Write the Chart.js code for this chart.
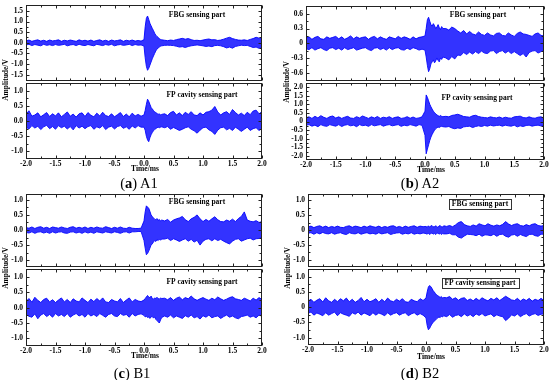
<!DOCTYPE html>
<html>
<head>
<meta charset="utf-8">
<script src="https://cdn.jsdelivr.net/npm/chart.js@4.4.1/dist/chart.umd.min.js"></script>
<style>
body { margin: 0; background: #fff; }
#fig { position: relative; width: 550px; height: 380px; overflow: hidden; background: #fff;
       font-family: "Liberation Serif", "Times New Roman", serif; }
#fig canvas { position: absolute; }
.lbl { position: absolute; transform: translate(-50%, -50%); white-space: nowrap;
       font-weight: bold; font-size: 7.5px; color: #000; line-height: 1; }
.ylab { transform: translate(-50%, -50%) rotate(-90deg); }
.cap { position: absolute; transform: translate(-50%, -50%); white-space: nowrap;
       font-size: 14.5px; color: #000; line-height: 1; }
</style>
</head>
<body>
<div id="fig"></div>
<script>
// time axis (ms): coarse before the trigger, finer through the burst
const times = [
  -2.00,-1.95,-1.90,-1.85,-1.80,-1.75,-1.70,-1.65,-1.60,-1.55,-1.50,-1.45,-1.40,-1.35,-1.30,-1.25,-1.20,-1.15,-1.10,-1.05,
  -1.00,-0.95,-0.90,-0.85,-0.80,-0.75,-0.70,-0.65,-0.60,-0.55,-0.50,-0.45,-0.40,-0.35,-0.30,-0.25,-0.20,-0.15,-0.10,-0.05,
  0.00,0.02,0.04,0.06,0.08,0.10,0.12,0.14,0.16,0.18,0.20,0.22,0.24,0.26,0.28,0.30,
  0.35,0.40,0.45,0.50,0.55,0.60,0.65,0.70,0.75,0.80,0.85,0.90,0.95,1.00,1.05,1.10,1.15,1.20,1.25,1.30,1.35,1.40,1.45,1.50,
  1.55,1.60,1.65,1.70,1.75,1.80,1.85,1.90,1.95,2.00
];

// upper / lower envelope of each trace (V)
// (a) A1
const aFbgHi = [
  0.09,0.13,0.07,0.11,0.14,0.08,0.12,0.07,0.13,0.09, 0.11,0.14,0.07,0.12,0.09,0.13,0.10,0.07,0.14,0.09,
  0.12,0.08,0.13,0.07,0.11,0.14,0.08,0.12,0.07,0.13, 0.09,0.11,0.14,0.07,0.12,0.09,0.13,0.08,0.11,0.08,
  0.15,0.75,1.15,1.26,1.10,0.92,0.80,0.68,0.58,0.45,0.36,0.30,0.25,0.20,0.16,0.14,
  0.12,0.10,0.13,0.11,0.15,0.18,0.21,0.17,0.20,0.15, 0.11,0.12,0.10,0.13,0.16,0.18,0.14,0.15,0.11,0.13,
  0.17,0.22,0.26,0.20,0.16,0.13,0.12,0.14,0.11,0.16, 0.20,0.26,0.22,0.24
];
const aFbgLo = [
  -0.10,-0.07,-0.13,-0.08,-0.11,-0.14,-0.07,-0.12,-0.09,-0.13, -0.08,-0.12,-0.10,-0.07,-0.14,-0.10,-0.08,-0.13,-0.07,-0.11,
  -0.13,-0.08,-0.11,-0.14,-0.07,-0.10,-0.13,-0.08,-0.11,-0.07, -0.14,-0.10,-0.08,-0.12,-0.10,-0.07,-0.13,-0.08,-0.11,-0.10,
  -0.15,-0.70,-1.10,-1.29,-1.20,-1.05,-0.90,-0.75,-0.62,-0.50,-0.38,-0.30,-0.24,-0.20,-0.16,-0.14,
  -0.12,-0.11,-0.12,-0.13,-0.16,-0.20,-0.18,-0.22,-0.17,-0.14, -0.12,-0.10,-0.12,-0.14,-0.17,-0.15,-0.18,-0.13,-0.12,-0.14,
  -0.18,-0.24,-0.20,-0.25,-0.17,-0.14,-0.11,-0.13,-0.12,-0.17, -0.22,-0.20,-0.26,-0.20
];
const aFpHi = [
  0.22,0.34,0.16,0.20,0.27,0.14,0.21,0.28,0.15,0.24, 0.17,0.27,0.14,0.22,0.30,0.16,0.23,0.13,0.24,0.27,
  0.15,0.28,0.19,0.14,0.26,0.17,0.29,0.18,0.15,0.24, 0.14,0.21,0.28,0.15,0.23,0.14,0.26,0.17,0.22,0.16,
  0.20,0.35,0.55,0.72,0.65,0.55,0.45,0.40,0.35,0.30,0.28,0.25,0.22,0.24,0.20,0.22,
  0.24,0.18,0.28,0.32,0.20,0.27,0.18,0.29,0.22,0.31, 0.20,0.18,0.27,0.20,0.29,0.31,0.36,0.48,0.30,0.20,
  0.27,0.31,0.22,0.38,0.28,0.20,0.26,0.18,0.29,0.21, 0.33,0.36,0.24,0.31
];
const aFpLo = [
  -0.20,-0.26,-0.15,-0.23,-0.17,-0.28,-0.19,-0.14,-0.25,-0.18, -0.27,-0.15,-0.22,-0.17,-0.26,-0.18,-0.29,-0.15,-0.23,-0.17,
  -0.25,-0.18,-0.15,-0.27,-0.19,-0.23,-0.15,-0.28,-0.20,-0.17, -0.26,-0.18,-0.15,-0.24,-0.19,-0.27,-0.16,-0.23,-0.15,-0.20,
  -0.20,-0.30,-0.50,-0.62,-0.68,-0.55,-0.45,-0.38,-0.32,-0.28,-0.25,-0.22,-0.20,-0.22,-0.20,-0.19,
  -0.22,-0.18,-0.27,-0.21,-0.26,-0.31,-0.27,-0.22,-0.19,-0.27, -0.32,-0.40,-0.30,-0.22,-0.20,-0.29,-0.34,-0.44,-0.30,-0.22,
  -0.20,-0.29,-0.24,-0.31,-0.20,-0.27,-0.34,-0.27,-0.20,-0.31, -0.25,-0.22,-0.31,-0.25
];
// (b) A2
const bFbgHi = [
  0.10,0.13,0.08,0.12,0.14,0.09,0.08,0.13,0.10,0.12, 0.14,0.09,0.13,0.08,0.11,0.15,0.09,0.13,0.10,0.12,
  0.13,0.08,0.12,0.14,0.09,0.13,0.10,0.08,0.13,0.11, 0.09,0.14,0.10,0.13,0.11,0.08,0.13,0.09,0.12,0.13,
  0.15,0.30,0.48,0.53,0.45,0.38,0.35,0.40,0.36,0.30,0.33,0.38,0.32,0.28,0.34,0.30,
  0.30,0.27,0.33,0.30,0.25,0.21,0.26,0.19,0.24,0.19, 0.17,0.23,0.18,0.16,0.21,0.17,0.15,0.20,0.21,0.16,
  0.15,0.21,0.17,0.14,0.20,0.23,0.19,0.18,0.16,0.14, 0.19,0.21,0.16,0.15
];
const bFbgLo = [
  -0.11,-0.13,-0.09,-0.14,-0.11,-0.09,-0.13,-0.15,-0.10,-0.09, -0.13,-0.10,-0.14,-0.09,-0.13,-0.11,-0.09,-0.14,-0.12,-0.10,
  -0.09,-0.13,-0.15,-0.10,-0.09,-0.13,-0.10,-0.14,-0.09,-0.13, -0.10,-0.09,-0.13,-0.14,-0.10,-0.13,-0.09,-0.11,-0.14,-0.12,
  -0.14,-0.28,-0.45,-0.58,-0.52,-0.42,-0.38,-0.34,-0.40,-0.36,-0.30,-0.35,-0.38,-0.30,-0.33,-0.28,
  -0.30,-0.34,-0.27,-0.32,-0.24,-0.25,-0.19,-0.23,-0.18,-0.22, -0.17,-0.21,-0.16,-0.20,-0.21,-0.16,-0.15,-0.21,-0.17,-0.15,
  -0.20,-0.16,-0.21,-0.17,-0.21,-0.25,-0.21,-0.28,-0.19,-0.16, -0.15,-0.20,-0.17,-0.15
];
const bFpHi = [
  0.22,0.27,0.18,0.30,0.21,0.34,0.24,0.18,0.28,0.32, 0.20,0.27,0.18,0.25,0.30,0.20,0.18,0.28,0.21,0.32,
  0.25,0.18,0.27,0.20,0.29,0.18,0.25,0.21,0.28,0.18, 0.24,0.27,0.18,0.21,0.28,0.19,0.26,0.18,0.21,0.27,
  0.60,1.54,1.40,1.20,1.00,0.85,0.72,0.60,0.52,0.45,0.38,0.34,0.30,0.35,0.30,0.28,
  0.30,0.27,0.35,0.38,0.42,0.36,0.29,0.27,0.25,0.33, 0.36,0.29,0.25,0.23,0.21,0.27,0.23,0.21,0.26,0.19,
  0.25,0.21,0.19,0.27,0.29,0.31,0.23,0.21,0.27,0.21, 0.19,0.25,0.27,0.21
];
const bFpLo = [
  -0.22,-0.18,-0.27,-0.21,-0.30,-0.18,-0.25,-0.28,-0.18,-0.23, -0.27,-0.18,-0.29,-0.21,-0.18,-0.25,-0.21,-0.30,-0.18,-0.24,
  -0.21,-0.28,-0.18,-0.25,-0.21,-0.18,-0.27,-0.21,-0.18,-0.25, -0.21,-0.18,-0.28,-0.21,-0.25,-0.18,-0.22,-0.27,-0.18,-0.22,
  -0.80,-1.87,-1.60,-1.35,-1.10,-0.90,-0.75,-0.62,-0.50,-0.42,-0.36,-0.32,-0.35,-0.30,-0.28,-0.30,
  -0.32,-0.29,-0.37,-0.42,-0.37,-0.40,-0.31,-0.29,-0.27,-0.35, -0.29,-0.25,-0.29,-0.23,-0.27,-0.21,-0.26,-0.23,-0.21,-0.27,
  -0.21,-0.25,-0.27,-0.21,-0.31,-0.25,-0.29,-0.23,-0.21,-0.27, -0.23,-0.21,-0.26,-0.21
];
// (c) B1
const cFbgHi = [
  0.08,0.06,0.10,0.05,0.09,0.11,0.06,0.09,0.05,0.10, 0.08,0.06,0.10,0.07,0.05,0.09,0.11,0.06,0.09,0.06,
  0.10,0.05,0.09,0.06,0.10,0.07,0.06,0.11,0.08,0.05, 0.09,0.06,0.10,0.06,0.05,0.09,0.06,0.05,0.05,0.06,
  0.30,0.60,0.80,0.76,0.72,0.62,0.50,0.45,0.40,0.36,0.34,0.38,0.32,0.35,0.30,0.33,
  0.30,0.35,0.26,0.33,0.37,0.40,0.45,0.34,0.28,0.37, 0.42,0.50,0.37,0.28,0.35,0.29,0.37,0.44,0.34,0.28,
  0.27,0.33,0.29,0.36,0.28,0.38,0.45,0.60,0.33,0.29, 0.27,0.31,0.25,0.28
];
const cFbgLo = [
  -0.08,-0.10,-0.06,-0.11,-0.07,-0.06,-0.10,-0.07,-0.11,-0.06, -0.10,-0.07,-0.06,-0.10,-0.11,-0.07,-0.06,-0.10,-0.07,-0.11,
  -0.06,-0.10,-0.07,-0.11,-0.06,-0.08,-0.10,-0.06,-0.08,-0.10, -0.06,-0.08,-0.11,-0.07,-0.06,-0.10,-0.06,-0.06,-0.05,-0.05,
  -0.35,-0.60,-0.82,-0.78,-0.70,-0.60,-0.50,-0.46,-0.40,-0.35,-0.38,-0.32,-0.35,-0.30,-0.34,-0.30,
  -0.30,-0.27,-0.35,-0.29,-0.33,-0.38,-0.33,-0.29,-0.37,-0.31, -0.40,-0.34,-0.50,-0.37,-0.31,-0.29,-0.36,-0.29,-0.35,-0.31,
  -0.37,-0.42,-0.46,-0.37,-0.31,-0.29,-0.37,-0.33,-0.29,-0.27, -0.33,-0.29,-0.28,-0.25
];
const cFpHi = [
  0.20,0.30,0.18,0.34,0.24,0.17,0.27,0.31,0.19,0.26, 0.17,0.25,0.32,0.19,0.27,0.17,0.29,0.22,0.19,0.32,
  0.24,0.17,0.28,0.20,0.30,0.22,0.32,0.19,0.17,0.27, 0.22,0.19,0.30,0.17,0.25,0.32,0.19,0.27,0.22,0.20,
  0.25,0.30,0.35,0.40,0.36,0.32,0.38,0.30,0.28,0.32,0.30,0.34,0.30,0.28,0.32,0.30,
  0.31,0.26,0.33,0.24,0.31,0.35,0.26,0.33,0.29,0.38, 0.29,0.24,0.29,0.33,0.28,0.24,0.31,0.26,0.35,0.29,
  0.24,0.28,0.33,0.36,0.29,0.27,0.24,0.31,0.27,0.22, 0.31,0.25,0.33,0.27
];
const cFpLo = [
  -0.22,-0.28,-0.31,-0.20,-0.36,-0.24,-0.19,-0.29,-0.22,-0.31, -0.19,-0.27,-0.22,-0.29,-0.19,-0.31,-0.24,-0.19,-0.27,-0.22,
  -0.31,-0.19,-0.27,-0.22,-0.29,-0.19,-0.25,-0.31,-0.22,-0.19, -0.27,-0.29,-0.19,-0.25,-0.22,-0.31,-0.19,-0.27,-0.22,-0.20,
  -0.25,-0.30,-0.28,-0.32,-0.30,-0.35,-0.30,-0.28,-0.34,-0.30,-0.38,-0.42,-0.46,-0.50,-0.40,-0.32,
  -0.27,-0.31,-0.24,-0.33,-0.27,-0.31,-0.35,-0.26,-0.31,-0.24, -0.33,-0.29,-0.37,-0.26,-0.31,-0.24,-0.33,-0.29,-0.27,-0.35,
  -0.29,-0.24,-0.31,-0.27,-0.33,-0.36,-0.29,-0.27,-0.24,-0.31, -0.27,-0.33,-0.24,-0.28
];
// (d) B2
const dFbgHi = [
  0.10,0.13,0.08,0.12,0.14,0.09,0.13,0.08,0.12,0.09, 0.13,0.09,0.08,0.12,0.14,0.09,0.13,0.11,0.08,0.13,
  0.09,0.14,0.11,0.09,0.13,0.08,0.12,0.09,0.13,0.14, 0.09,0.12,0.08,0.13,0.09,0.12,0.14,0.09,0.13,0.11,
  0.12,0.09,0.14,0.10,0.13,0.15,0.11,0.10,0.14,0.12,0.09,0.13,0.15,0.11,0.10,0.14,
  0.12,0.15,0.11,0.17,0.25,0.28,0.18,0.14,0.12,0.17, 0.13,0.21,0.17,0.14,0.21,0.16,0.13,0.17,0.14,0.19,
  0.28,0.20,0.15,0.19,0.21,0.15,0.13,0.18,0.14,0.19, 0.21,0.15,0.13,0.15
];
const dFbgLo = [
  -0.11,-0.09,-0.14,-0.09,-0.13,-0.08,-0.12,-0.13,-0.09,-0.14, -0.11,-0.09,-0.13,-0.15,-0.09,-0.12,-0.13,-0.09,-0.14,-0.11,
  -0.09,-0.13,-0.11,-0.14,-0.09,-0.13,-0.11,-0.09,-0.15,-0.12, -0.10,-0.09,-0.14,-0.11,-0.13,-0.09,-0.14,-0.11,-0.13,-0.10,
  -0.12,-0.14,-0.10,-0.15,-0.12,-0.10,-0.14,-0.11,-0.15,-0.12,-0.10,-0.14,-0.11,-0.15,-0.12,-0.13,
  -0.13,-0.11,-0.16,-0.16,-0.24,-0.27,-0.20,-0.14,-0.15,-0.16, -0.19,-0.14,-0.21,-0.16,-0.17,-0.19,-0.14,-0.21,-0.15,-0.14,
  -0.21,-0.24,-0.17,-0.15,-0.21,-0.15,-0.19,-0.22,-0.15,-0.14, -0.19,-0.21,-0.14,-0.14
];
const dFpHi = [
  0.20,0.26,0.16,0.23,0.28,0.17,0.31,0.21,0.16,0.26, 0.18,0.28,0.21,0.30,0.18,0.26,0.16,0.22,0.32,0.18,
  0.26,0.18,0.22,0.28,0.16,0.26,0.18,0.30,0.21,0.18, 0.26,0.20,0.28,0.18,0.16,0.26,0.21,0.18,0.28,0.22,
  0.30,0.50,0.66,0.71,0.68,0.62,0.55,0.50,0.45,0.40,0.38,0.35,0.32,0.35,0.30,0.32,
  0.31,0.35,0.26,0.31,0.23,0.29,0.31,0.22,0.27,0.21, 0.29,0.22,0.31,0.25,0.21,0.29,0.24,0.31,0.22,0.29,
  0.36,0.30,0.24,0.22,0.29,0.20,0.27,0.22,0.29,0.20, 0.26,0.22,0.29,0.22
];
const dFpLo = [
  -0.20,-0.16,-0.26,-0.19,-0.23,-0.28,-0.18,-0.26,-0.21,-0.16, -0.28,-0.18,-0.23,-0.26,-0.30,-0.18,-0.23,-0.16,-0.26,-0.19,
  -0.23,-0.28,-0.18,-0.26,-0.19,-0.23,-0.28,-0.18,-0.26,-0.21, -0.18,-0.26,-0.21,-0.18,-0.28,-0.22,-0.18,-0.26,-0.21,-0.26,
  -0.35,-0.60,-0.74,-0.70,-0.62,-0.55,-0.50,-0.46,-0.42,-0.38,-0.35,-0.32,-0.34,-0.30,-0.32,-0.28,
  -0.31,-0.24,-0.33,-0.27,-0.25,-0.31,-0.22,-0.29,-0.24,-0.31, -0.22,-0.27,-0.21,-0.29,-0.25,-0.22,-0.31,-0.25,-0.29,-0.31,
  -0.44,-0.36,-0.25,-0.29,-0.22,-0.31,-0.25,-0.21,-0.29,-0.24, -0.21,-0.27,-0.23,-0.22
];

// tick values
const xTicks = [-2, -1.5, -1, -0.5, 0, 0.5, 1, 1.5, 2];
const yTicks15 = [-1.5, -1, -0.5, 0, 0.5, 1, 1.5];
const yTicks10 = [-1, -0.5, 0, 0.5, 1];
const yTicks06 = [-0.6, -0.3, 0, 0.3, 0.6];
const yTicks20 = [-2, -1.5, -1, -0.5, 0, 0.5, 1, 1.5, 2];

const LINE = '#0000ff';
const BAND = 'rgba(12,12,255,0.84)';
const TICK_FONT = { family: '"Liberation Serif", "Times New Roman", serif', size: 7.5, weight: 'bold' };
const LABEL_FONT = 'bold 7.5px "Liberation Serif", "Times New Roman", serif';

const fix1 = v => v.toFixed(1);
const zeroBare = v => (v === 0 ? '0' : v.toFixed(1));

// plot rectangles [left, right, top, bottom] and label centres, in page pixels
const panels = [
  { rect: [26, 262, 3, 82],     yMin: -1.77, yMax: 1.80, yTicks: yTicks15, fmt: fix1,     hi: aFbgHi, lo: aFbgLo, xAxis: false,
    label: 'FBG sensing part', lx: 197, ly: 15, boxed: false },
  { rect: [26, 262, 81, 159],   yMin: -1.25, yMax: 1.27, yTicks: yTicks10, fmt: fix1,     hi: aFpHi,  lo: aFpLo,  xAxis: true,
    label: 'FP cavity sensing part', lx: 202, ly: 95, boxed: false },
  { rect: [306, 544, 4, 82],    yMin: -0.76, yMax: 0.77, yTicks: yTicks06, fmt: zeroBare, hi: bFbgHi, lo: bFbgLo, xAxis: false,
    label: 'FBG sensing part', lx: 478, ly: 15, boxed: false },
  { rect: [306, 544, 81, 160],  yMin: -2.23, yMax: 2.26, yTicks: yTicks20, fmt: zeroBare, hi: bFpHi,  lo: bFpLo,  xAxis: true,
    label: 'FP cavity sensing part', lx: 477, ly: 98, boxed: false },
  { rect: [26, 262, 192, 268],  yMin: -1.21, yMax: 1.21, yTicks: yTicks10, fmt: fix1,     hi: cFbgHi, lo: cFbgLo, xAxis: false,
    label: 'FBG sensing part', lx: 197, ly: 202, boxed: false },
  { rect: [26, 262, 267, 346],  yMin: -1.25, yMax: 1.28, yTicks: yTicks10, fmt: fix1,     hi: cFpHi,  lo: cFpLo,  xAxis: true,
    label: 'FP cavity sensing part', lx: 202, ly: 282, boxed: false },
  { rect: [308, 544, 192, 268], yMin: -1.22, yMax: 1.22, yTicks: yTicks10, fmt: zeroBare, hi: dFbgHi, lo: dFbgLo, xAxis: false,
    label: 'FBG sensing part', lx: 480, ly: 203.5, boxed: true },
  { rect: [308, 544, 267, 345], yMin: -1.24, yMax: 1.27, yTicks: yTicks10, fmt: zeroBare, hi: dFpHi,  lo: dFpLo,  xAxis: true,
    label: 'FP cavity sensing part', lx: 480, ly: 282.5, boxed: true }
];

// frame with inward major/minor ticks on all four sides, plus the trace label
const framePlugin = {
  id: 'frame',
  afterDraw(chart) {
    const { ctx, chartArea: a } = chart;
    const x = chart.scales.x, y = chart.scales.y;
    const p = chart.options.plugins.frame;
    const L = Math.round(a.left) + 0.5, R = Math.round(a.right) - 0.5;
    const T = Math.round(a.top) + 0.5, B = Math.round(a.bottom) - 0.5;
    ctx.save();
    ctx.strokeStyle = '#222';
    ctx.lineWidth = 1;
    ctx.strokeRect(L, T, R - L, B - T);
    ctx.beginPath();
    const xt = xTicks;
    xt.forEach((v, i) => {
      const px = Math.round(x.getPixelForValue(v)) + 0.5;
      ctx.moveTo(px, T); ctx.lineTo(px, T + 3);
      ctx.moveTo(px, B); ctx.lineTo(px, B - 3);
      if (i < xt.length - 1) {
        const pm = Math.round(x.getPixelForValue((v + xt[i + 1]) / 2)) + 0.5;
        ctx.moveTo(pm, T); ctx.lineTo(pm, T + 2);
        ctx.moveTo(pm, B); ctx.lineTo(pm, B - 2);
      }
    });
    const yt = p.yTicks;
    yt.forEach((v, i) => {
      const py = Math.round(y.getPixelForValue(v)) + 0.5;
      ctx.moveTo(L, py); ctx.lineTo(L + 3, py);
      ctx.moveTo(R, py); ctx.lineTo(R - 3, py);
      if (i < yt.length - 1) {
        const pm = Math.round(y.getPixelForValue((v + yt[i + 1]) / 2)) + 0.5;
        ctx.moveTo(L, pm); ctx.lineTo(L + 2, pm);
        ctx.moveTo(R, pm); ctx.lineTo(R - 2, pm);
      }
    });
    ctx.stroke();

    // trace label
    ctx.font = LABEL_FONT;
    ctx.textAlign = 'center';
    ctx.textBaseline = 'middle';
    const cx = p.lx - p.ox, cy = p.ly - p.oy;
    if (p.boxed) {
      const w = Math.round(ctx.measureText(p.label).width) + 6;
      const bx = Math.round(cx - w / 2) + 0.5, by = Math.round(cy - 5) + 0.5;
      ctx.fillStyle = '#fff';
      ctx.fillRect(bx, by, w, 10);
      ctx.strokeStyle = '#333';
      ctx.strokeRect(bx, by, w, 10);
    }
    ctx.fillStyle = '#000';
    ctx.fillText(p.label, cx, cy + 0.5);
    ctx.restore();
  }
};

const pts = arr => times.map((t, i) => ({ x: t, y: arr[i] }));

const fig = document.getElementById('fig');

panels.forEach(p => {
  if (p.hi.length !== times.length || p.lo.length !== times.length) {
    throw new Error('length mismatch ' + p.hi.length + ' ' + p.lo.length);
  }
  const [L, R, T, B] = p.rect;
  const ML = 28, MR = 10, MT = 6, MB = p.xAxis ? 24 : 6;
  const cv = document.createElement('canvas');
  cv.width = R - L + ML + MR;
  cv.height = B - T + MT + MB;
  cv.style.left = (L - ML) + 'px';
  cv.style.top = (T - MT) + 'px';
  fig.appendChild(cv);

  const xScale = {
    type: 'linear', min: -2, max: 2, display: p.xAxis,
    afterBuildTicks: s => { s.ticks = xTicks.map(v => ({ value: v })); },
    grid: { display: false, drawTicks: false }, border: { display: false },
    ticks: { font: TICK_FONT, color: '#000', padding: 1, maxRotation: 0, autoSkip: false,
             callback: v => fix1(v) }
  };
  if (p.xAxis) xScale.afterFit = s => { s.height = MB; };

  new Chart(cv, {
    type: 'line',
    data: {
      datasets: [
        { data: pts(p.hi), fill: '+1', backgroundColor: BAND, borderColor: LINE, borderWidth: 0.9, pointRadius: 0, tension: 0 },
        { data: pts(p.lo), fill: false, borderColor: LINE, borderWidth: 0.9, pointRadius: 0, tension: 0 }
      ]
    },
    options: {
      responsive: false, animation: false, devicePixelRatio: 1, events: [],
      layout: { padding: { left: 0, right: MR, top: MT, bottom: p.xAxis ? 0 : MB } },
      plugins: {
        legend: { display: false }, tooltip: { enabled: false },
        frame: { yTicks: p.yTicks, label: p.label, lx: p.lx, ly: p.ly, boxed: p.boxed, ox: L - ML, oy: T - MT }
      },
      scales: {
        x: xScale,
        y: {
          type: 'linear', min: p.yMin, max: p.yMax,
          afterBuildTicks: s => { s.ticks = p.yTicks.map(v => ({ value: v })); },
          afterFit: s => { s.width = ML; },
          grid: { display: false, drawTicks: false }, border: { display: false },
          ticks: { font: TICK_FONT, color: '#000', padding: 3, autoSkip: false, callback: v => p.fmt(v) }
        }
      }
    },
    plugins: [framePlugin]
  });
});

// axis titles and captions
const texts = [
  { t: 'Amplitude/V', x: 6, y: 80, cls: 'lbl ylab' },
  { t: 'Amplitude/V', x: 287, y: 82, cls: 'lbl ylab' },
  { t: 'Amplitude/V', x: 6, y: 268, cls: 'lbl ylab' },
  { t: 'Amplitude/V', x: 288, y: 268, cls: 'lbl ylab' },
  { t: 'Time/ms', x: 145, y: 169, cls: 'lbl' },
  { t: 'Time/ms', x: 431, y: 170, cls: 'lbl' },
  { t: 'Time/ms', x: 145, y: 356, cls: 'lbl' },
  { t: 'Time/ms', x: 431, y: 356.5, cls: 'lbl' }
];
texts.forEach(d => {
  const el = document.createElement('div');
  el.className = d.cls;
  el.textContent = d.t;
  el.style.left = d.x + 'px';
  el.style.top = d.y + 'px';
  fig.appendChild(el);
});

const captions = [
  { k: 'a', n: 'A1', x: 139, y: 182.5 },
  { k: 'b', n: 'A2', x: 420, y: 183 },
  { k: 'c', n: 'B1', x: 132, y: 372.5 },
  { k: 'd', n: 'B2', x: 420, y: 372.5 }
];
captions.forEach(c => {
  const el = document.createElement('div');
  el.className = 'cap';
  el.innerHTML = '(<b>' + c.k + '</b>) ' + c.n;
  el.style.left = c.x + 'px';
  el.style.top = c.y + 'px';
  fig.appendChild(el);
});
</script>
</body>
</html>
